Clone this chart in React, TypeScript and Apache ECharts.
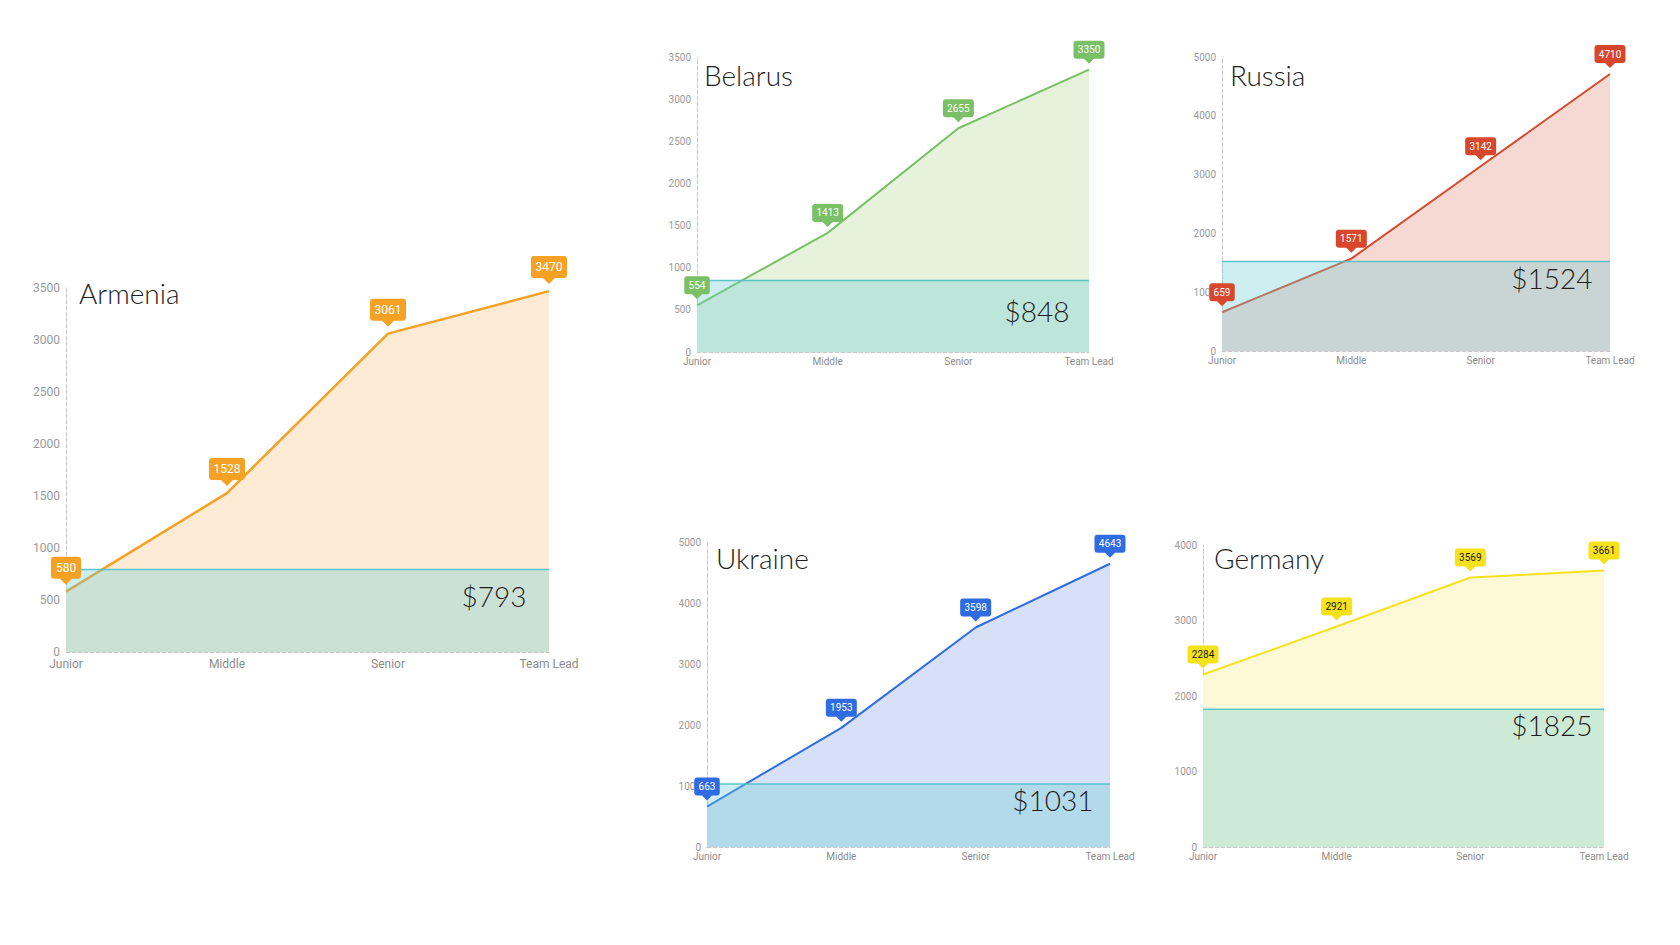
import React, { useEffect, useRef } from 'react';
import * as echarts from 'echarts';

// salary by level, $ per month
const levels = ['Junior', 'Middle', 'Senior', 'Team Lead'];

const armeniaSalary = [580, 1528, 3061, 3470];
const belarusSalary = [554, 1413, 2655, 3350];
const russiaSalary = [659, 1571, 3142, 4710];
const ukraineSalary = [663, 1953, 3598, 4643];
const germanySalary = [2284, 2921, 3569, 3661];

const countries = ['Armenia', 'Belarus', 'Russia', 'Ukraine', 'Germany'];
const salaries = [armeniaSalary, belarusSalary, russiaSalary, ukraineSalary, germanySalary];
const averages = [793, 848, 1524, 1031, 1825];
const axisMax = [3500, 3500, 5000, 5000, 4000];
const axisStep = [500, 500, 1000, 1000, 1000];

type Panel = {
    left: number;
    top: number;
    width: number;
    height: number;
    big: boolean;
    line: string;
    area: string;
    pinText: string;
    titleLeft: number;
    titleTop: number;
    sumDx: number;
    sumDy: number;
};

const panels: Panel[] = [
    { left: 66, top: 288, width: 483, height: 364, big: true, line: '#f4a124', area: '#fdebd6', pinText: '#ffffff', titleLeft: 79, titleTop: 279, sumDx: 22, sumDy: 26 },
    { left: 697, top: 57, width: 392, height: 295, big: false, line: '#79c067', area: '#e6f2dc', pinText: '#ffffff', titleLeft: 704, titleTop: 61, sumDx: 19, sumDy: 30 },
    { left: 1222, top: 57, width: 388, height: 294, big: false, line: '#d7472d', area: '#f7d9d4', pinText: '#ffffff', titleLeft: 1230, titleTop: 61, sumDx: 17, sumDy: 17 },
    { left: 707, top: 542, width: 403, height: 305, big: false, line: '#2f6ce2', area: '#d6e1f7', pinText: '#ffffff', titleLeft: 716, titleTop: 544, sumDx: 16, sumDy: 16 },
    { left: 1203, top: 545, width: 401, height: 302, big: false, line: '#f6e21c', area: '#fdf9d6', pinText: '#1a1a1a', titleLeft: 1214, titleTop: 544, sumDx: 11, sumDy: 16 },
];

const FONT = 'Roboto, "Helvetica Neue", Arial, sans-serif';
const THIN_FONT = 'Lato, "Helvetica Neue", Arial, sans-serif';

// rounded box with a small pointer underneath
const pinPath = (w: number, h: number, a: number) => {
    const r = 3;
    return `path://M${r} 0H${w - r}Q${w} 0 ${w} ${r}V${h - r}Q${w} ${h} ${w - r} ${h}H${w / 2 + a}L${w / 2} ${h + a}L${w / 2 - a} ${h}H${r}Q0 ${h} 0 ${h - r}V${r}Q0 0 ${r} 0Z`;
};

const App: React.FC = () => {
    const chartRef = useRef<HTMLDivElement>(null);

    useEffect(() => {
        if (!chartRef.current) return;
        const chart = echarts.init(chartRef.current, undefined, { renderer: 'svg' });

        const series: any[] = [];
        panels.forEach((p, i) => {
            const values = salaries[i];
            const avg = averages[i];
            const pinH = p.big ? 22 : 18;
            const pinA = p.big ? 6 : 5;
            const gap = p.big ? 7 : 6;
            const pinW = (v: number) => {
                const n = String(v).length;
                return p.big ? 12 + n * 6 : 9 + n * 5.5;
            };

            series.push({
                type: 'line',
                name: countries[i],
                xAxisIndex: i,
                yAxisIndex: i,
                data: values,
                symbol: 'none',
                silent: true,
                z: 2,
                lineStyle: { color: p.line, width: p.big ? 2.5 : 2 },
                areaStyle: { color: p.area, opacity: 1 },
            });

            series.push({
                type: 'line',
                name: countries[i] + ' avg',
                xAxisIndex: i,
                yAxisIndex: i,
                data: levels.map(() => avg),
                symbol: 'none',
                silent: true,
                z: 3,
                lineStyle: { color: 'rgba(78,192,198,0.9)', width: 1.5 },
                areaStyle: { color: 'rgba(111,206,211,0.35)', opacity: 1 },
                markPoint: {
                    silent: true,
                    symbol: 'circle',
                    symbolSize: 1,
                    itemStyle: { color: 'rgba(0,0,0,0)' },
                    data: [{ coord: [levels.length - 1, avg] }],
                    label: {
                        show: true,
                        formatter: '$' + avg,
                        position: 'left',
                        distance: p.sumDx,
                        offset: [0, p.sumDy],
                        fontSize: 28,
                        fontWeight: 300,
                        fontFamily: THIN_FONT,
                        color: '#1e1e1e',
                    },
                },
            });

            series.push({
                type: 'scatter',
                name: countries[i] + ' pins',
                xAxisIndex: i,
                yAxisIndex: i,
                silent: true,
                z: 5,
                data: values.map(v => ({
                    value: v,
                    symbol: pinPath(pinW(v), pinH, pinA),
                    symbolSize: [pinW(v), pinH + pinA],
                })),
                symbolOffset: [0, -((pinH + pinA) / 2 + gap)],
                itemStyle: { color: p.line, opacity: 1 },
                label: {
                    show: true,
                    position: 'inside',
                    formatter: '{c}',
                    color: p.pinText,
                    fontSize: p.big ? 12 : 10,
                    fontFamily: FONT,
                    offset: [0, -pinA / 2],
                },
            });
        });

        chart.setOption({
            animation: false,
            backgroundColor: '#ffffff',
            title: panels.map((p, i) => ({
                text: countries[i],
                left: p.titleLeft,
                top: p.titleTop,
                padding: 0,
                textStyle: { fontSize: 28, fontWeight: 300, color: '#1e1e1e', fontFamily: THIN_FONT },
            })),
            grid: panels.map(p => ({ left: p.left, top: p.top, width: p.width, height: p.height })),
            xAxis: panels.map((p, i) => ({
                type: 'category',
                gridIndex: i,
                data: levels,
                boundaryGap: false,
                axisLine: { lineStyle: { color: '#c8c8c8', type: 'dashed', width: 1 } },
                axisTick: { show: false },
                splitLine: { show: false },
                axisLabel: { color: '#8c8c8c', fontSize: p.big ? 12 : 10, margin: p.big ? 6 : 4, fontFamily: FONT },
            })),
            yAxis: panels.map((p, i) => ({
                type: 'value',
                gridIndex: i,
                min: 0,
                max: axisMax[i],
                interval: axisStep[i],
                axisLine: { show: true, lineStyle: { color: '#c8c8c8', type: 'dashed', width: 1 } },
                axisTick: { show: false },
                splitLine: { show: false },
                axisLabel: {
                    color: '#9a9a9a',
                    fontSize: p.big ? 12 : 10,
                    margin: 6,
                    fontFamily: FONT,
                    formatter: (v: number) => String(v),
                },
            })),
            series,
        });

        return () => chart.dispose();
    }, []);

    return (
        <div
            ref={chartRef}
            style={{ position: 'absolute', left: 0, top: 0, width: 1680, height: 945, background: '#fff' }}
        />
    );
};

export default App;
